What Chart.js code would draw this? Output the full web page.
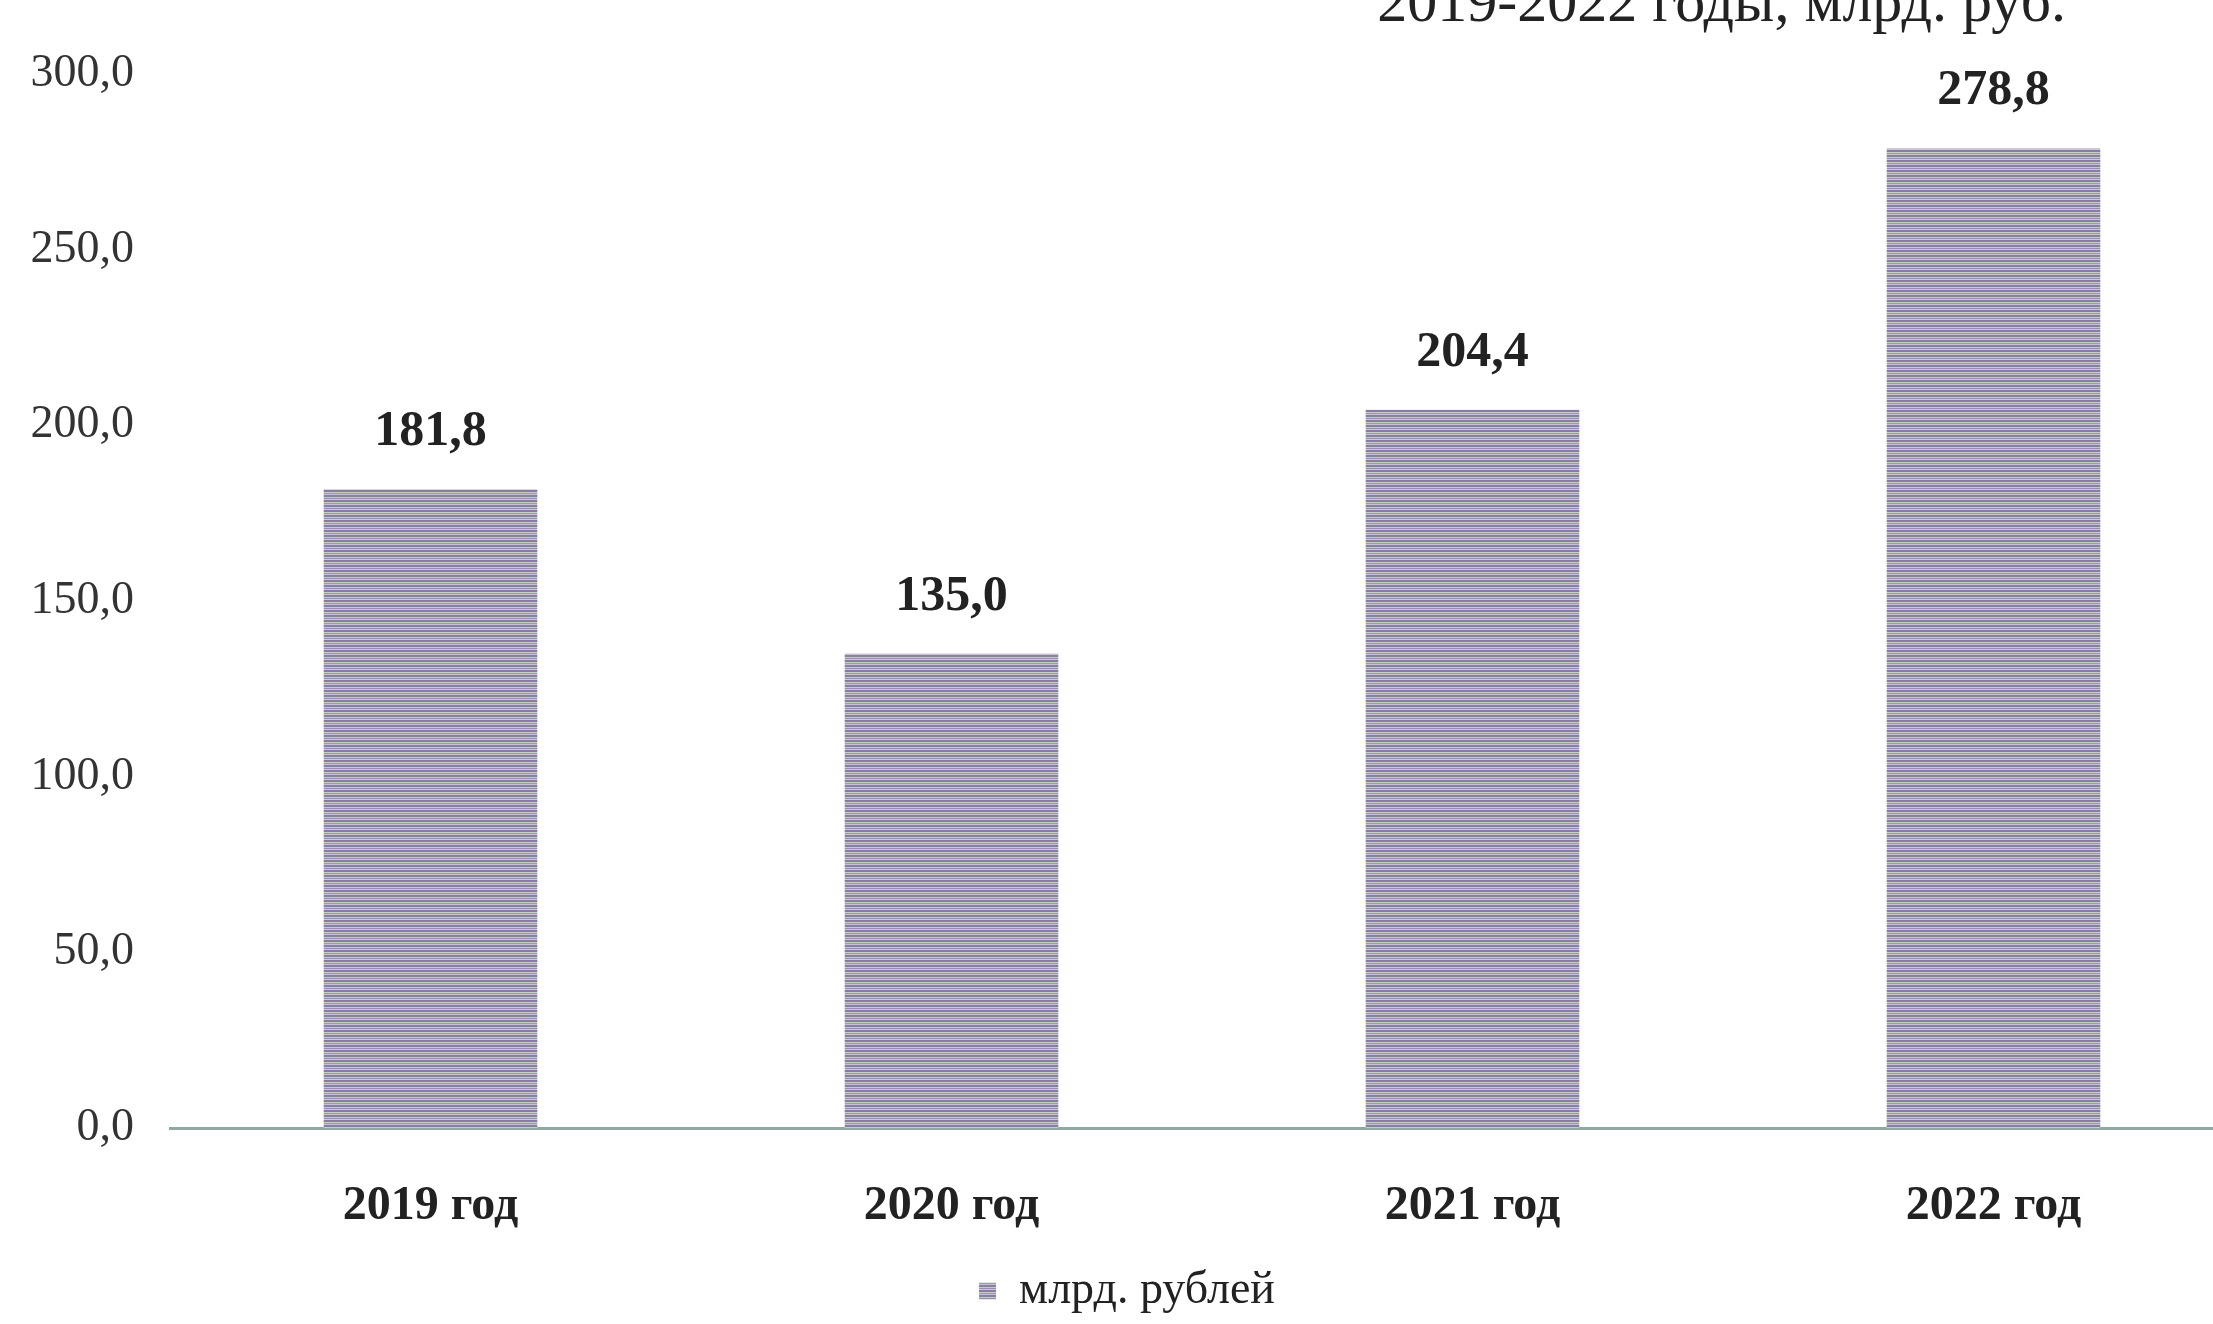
<!DOCTYPE html>
<html>
<head>
<meta charset="utf-8">
<script src="https://cdn.jsdelivr.net/npm/chart.js@4"></script>
<style>
  html, body { margin: 0; padding: 0; background: #fff; overflow: hidden; }
  #wrap { width: 2254px; height: 1324px; position: relative; }
</style>
</head>
<body>
<div id="wrap"><canvas id="myChart"></canvas></div>
<script>
// Categories
var years = ["2019 год", "2020 год", "2021 год", "2022 год"];

// Series values, млрд. рублей
var values = [181.8, 135.0, 204.4, 278.8];

// Y axis ticks
var yTicks = [0, 50, 100, 150, 200, 250, 300];

var seriesName = "млрд. рублей";
var titleText = "2019-2022 годы, млрд. руб.";

// Comma as decimal separator
function fmt(v) {
    return Number(v).toFixed(1).replace(".", ",");
}

// Striped fill like the scanned hatch
function makeStripes() {
    const c = document.createElement("canvas");
    c.width = 8;
    c.height = 10;
    const g = c.getContext("2d");
    const rows = ["#8a7aa6", "#8a7aa6", "#c2d1bd", "#9f98b0", "#cbbfd8", "#858395", "#85839a", "#bdd0c8", "#9b8bb2", "#cfc8d6"];
    rows.forEach(function(col, i) {
        g.fillStyle = col;
        g.fillRect(0, i, 8, 1);
    });
    return g.createPattern(c, "repeat");
}

// Values above the bars
const valueLabels = {
    id: "valueLabels",
    afterDatasetsDraw(chart) {
        const ctx = chart.ctx;
        const meta = chart.getDatasetMeta(0);
        ctx.save();
        ctx.font = "bold 50px 'Liberation Serif'";
        ctx.fillStyle = "#222";
        ctx.textAlign = "center";
        ctx.textBaseline = "bottom";
        meta.data.forEach(function(bar, i) {
            ctx.fillText(fmt(values[i]), bar.x, bar.y - 32);
        });
        ctx.restore();
    }
};

// Cut-off heading at the top edge
const topTitle = {
    id: "topTitle",
    afterDraw(chart) {
        const ctx = chart.ctx;
        ctx.save();
        ctx.font = "60px 'Liberation Serif'";
        ctx.fillStyle = "#222";
        ctx.textAlign = "right";
        ctx.textBaseline = "alphabetic";
        ctx.fillText(titleText, 2066, 21);
        ctx.restore();
    }
};

const ctx = document.getElementById("myChart").getContext("2d");
const myChart = new Chart(ctx, {
    type: "bar",
    data: {
        labels: years,
        datasets: [{
            label: seriesName,
            data: values,
            backgroundColor: makeStripes(),
            borderWidth: 0,
            barPercentage: 0.41,
            categoryPercentage: 1
        }]
    },
    options: {
        responsive: true,
        maintainAspectRatio: false,
        animation: false,
        layout: {
            padding: { top: 74, right: 0, left: 0, bottom: 0 }
        },
        plugins: {
            legend: {
                position: "bottom",
                labels: {
                    boxWidth: 17,
                    boxHeight: 17,
                    padding: 12,
                    color: "#222",
                    font: { family: "'Liberation Serif'", size: 46 }
                }
            },
            tooltip: { enabled: false }
        },
        scales: {
            x: {
                grid: { display: false },
                border: { display: true, color: "#8fa8a2", width: 3 },
                ticks: {
                    color: "#222",
                    padding: 42,
                    font: { family: "'Liberation Serif'", size: 48, weight: "bold" }
                },
                afterFit(scale) { scale.height = 128; }
            },
            y: {
                min: 0,
                max: 300,
                afterBuildTicks(scale) {
                    scale.ticks = yTicks.map(function(v) { return { value: v }; });
                },
                grid: { display: false },
                border: { display: false },
                ticks: {
                    color: "#333",
                    padding: 28,
                    font: { family: "'Liberation Serif'", size: 46 },
                    callback: function(v) { return fmt(v); }
                },
                afterFit(scale) { scale.width = 170; }
            }
        }
    },
    plugins: [valueLabels, topTitle]
});
</script>
</body>
</html>
